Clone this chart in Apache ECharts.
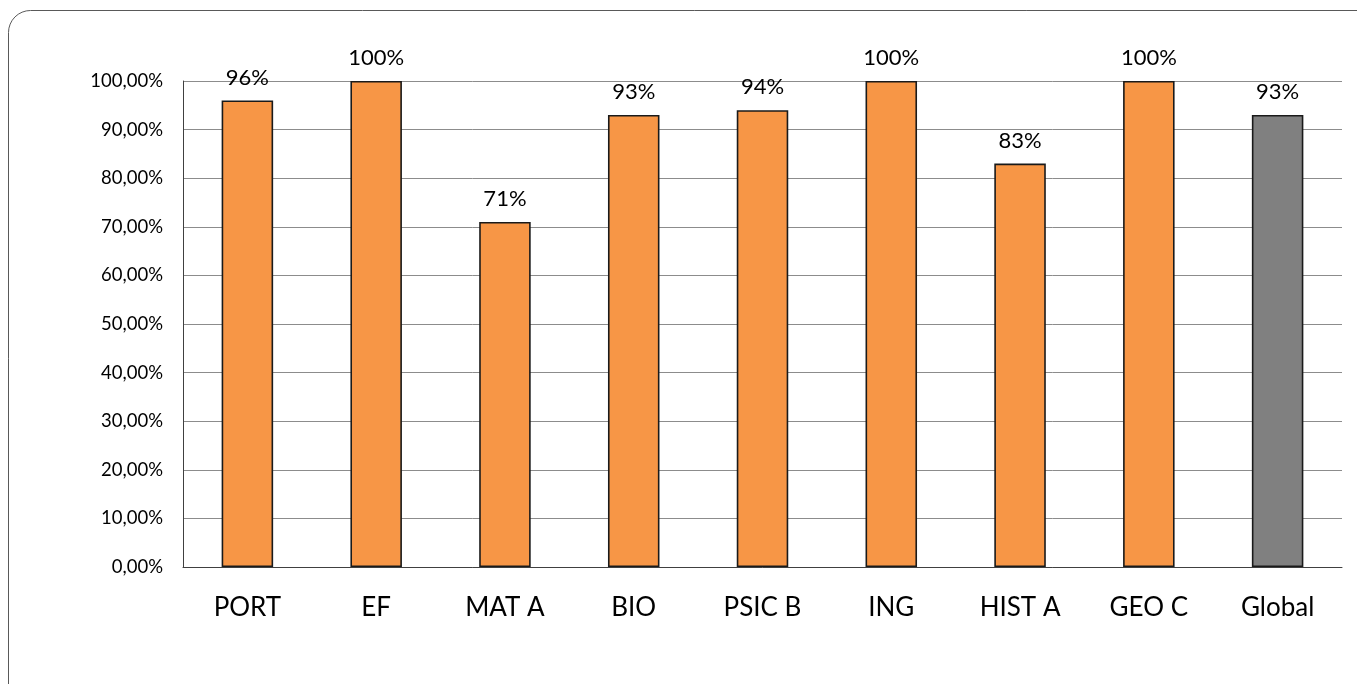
<!DOCTYPE html>
<html>
<head>
<meta charset="utf-8">
<script src="https://cdn.jsdelivr.net/npm/echarts@6/dist/echarts.min.js"></script>
<style>
html,body{margin:0;padding:0;background:#fff;}
#c{width:1357px;height:684px;}
</style>
</head>
<body>
<div id="c"></div>
<script>
var categories = ['PORT', 'EF', 'MAT A', 'BIO', 'PSIC B', 'ING', 'HIST A', 'GEO C', 'Global'];
var values = [96, 100, 71, 93, 94, 100, 83, 100, 93];
var barColors = ['#F79646', '#F79646', '#F79646', '#F79646', '#F79646', '#F79646', '#F79646', '#F79646', '#808080'];

function shade(c) {
  return {
    type: 'linear', x: 0, y: 0, x2: 1, y2: 0,
    colorStops: [
      { offset: 0, color: c },
      { offset: 0.12, color: c },
      { offset: 0.5, color: c },
      { offset: 0.88, color: c },
      { offset: 1, color: c }
    ]
  };
}

var chart = echarts.init(document.getElementById('c'));
var FONT = 'Lato, "Open Sans", sans-serif';
chart.setOption({
  animation: false,
  graphic: [{
    type: 'rect',
    shape: { x: 8.5, y: 10.5, width: 1420, height: 760, r: 22 },
    style: { fill: 'none', stroke: '#595959', lineWidth: 1 },
    z: -1
  }],
  grid: { left: 183, right: 15, top: 81, bottom: 117 },
  xAxis: {
    type: 'category',
    data: categories,
    axisLine: { lineStyle: { color: '#404040', width: 1 } },
    axisTick: { show: false },
    axisLabel: { color: '#000', fontSize: 26, fontFamily: FONT, margin: 28 }
  },
  yAxis: {
    type: 'value',
    min: 0,
    max: 100,
    interval: 10,
    axisLine: { show: true, lineStyle: { color: '#404040', width: 1 } },
    axisTick: { show: false },
    axisLabel: {
      color: '#000', fontSize: 18.5, fontFamily: FONT, margin: 20,
      formatter: function (v) { return v.toFixed(2).replace('.', ',') + '%'; }
    },
    splitLine: { lineStyle: { color: '#8c8c8c', width: 1 } }
  },
  series: [{
    type: 'bar',
    barWidth: '40%',
    data: values.map(function (v, i) {
      return {
        value: v,
        itemStyle: { color: shade(barColors[i]), borderColor: '#1a1a1a', borderWidth: 1.6 }
      };
    }),
    label: {
      show: true,
      position: 'top',
      distance: 12,
      color: '#000',
      fontSize: 22,
      fontFamily: FONT,
      formatter: function (p) { return p.value + '%'; }
    }
  }]
});
</script>
</body>
</html>
